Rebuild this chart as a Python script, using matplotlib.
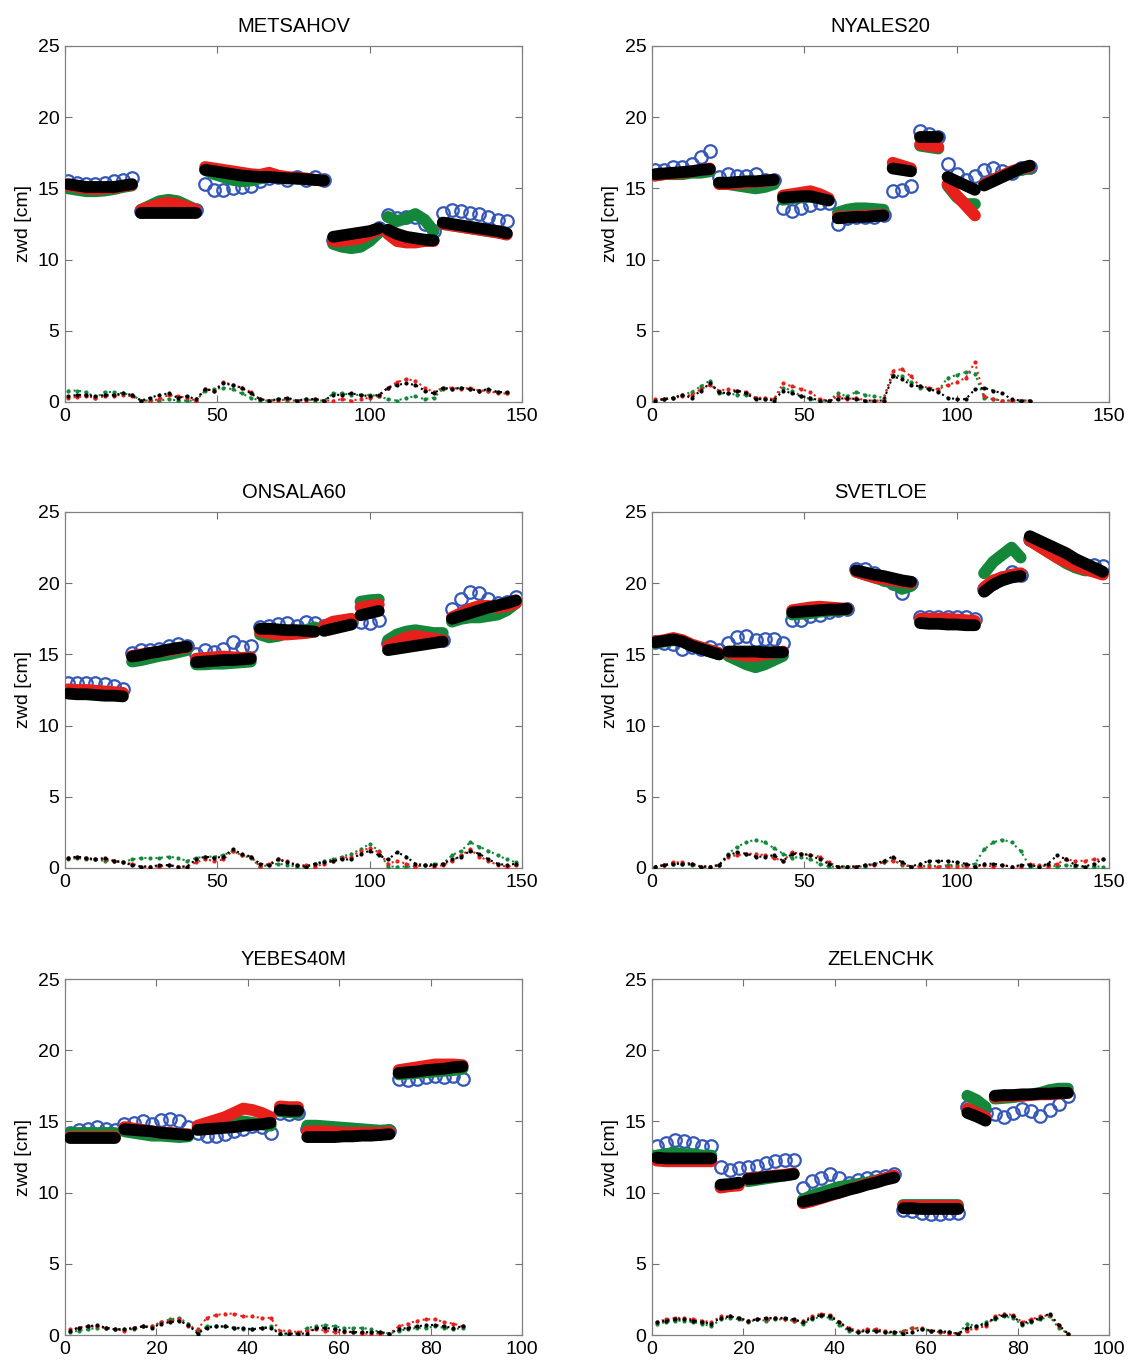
import matplotlib
matplotlib.use("Agg")
import matplotlib.pyplot as plt

plt.rcParams["font.family"] = ["Liberation Sans", "DejaVu Sans"]

# ── colours ───────────────────────────────────────────────────────────────────
C_BLUE = "#3558b8"
C_GREEN = "#14873a"
C_RED = "#e8201c"
C_BLACK = "#000000"

# ── METSAHOV ──────────────────────────────────────────────────────────────────
met_x = list(range(1, 146, 3))
met_breaks = [8, 15, 29, 35, 41]
met_black = [15.3, 15.2, 15.1, 15.1, 15.1, 15.1, 15.2, 15.3,
             13.3, 13.3, 13.3, 13.3, 13.3, 13.3, 13.3,
             16.3, 16.2, 16.1, 16.0, 15.9, 15.85, 15.8, 15.8, 15.75, 15.7, 15.7, 15.65, 15.6, 15.55,
             11.6, 11.7, 11.8, 11.9, 12.0, 12.2,
             12.1, 11.8, 11.6, 11.5, 11.4, 11.35,
             12.6, 12.5, 12.4, 12.3, 12.2, 12.1, 12.0, 11.85]
met_red = [15.2, 15.1, 15.0, 14.95, 15.0, 15.05, 15.15, 15.25,
           13.5, 13.7, 13.9, 14.0, 13.9, 13.7, 13.5,
           16.5, 16.4, 16.3, 16.2, 16.1, 16.0, 15.95, 16.1, 15.9, 15.8, 15.75, 15.7, 15.6, 15.55,
           11.3, 11.3, 11.4, 11.5, 11.8, 12.1,
           11.8, 11.3, 11.2, 11.2, 11.3, 11.3,
           12.5, 12.4, 12.3, 12.2, 12.1, 12.0, 11.9, 11.75]
met_green = [15.0, 14.9, 14.8, 14.8, 14.85, 14.95, 15.1, 15.2,
             13.5, 13.8, 14.1, 14.2, 14.1, 13.8, 13.5,
             16.3, 16.0, 15.8, 15.6, 15.5, 15.55, 15.7, 15.8, 15.8, 15.75, 15.7, 15.65, 15.6, 15.55,
             11.1, 10.9, 10.8, 10.9, 11.3, 11.9,
             13.0, 12.7, 12.9, 13.2, 12.8, 12.0,
             12.5, 12.4, 12.3, 12.2, 12.1, 12.0, 11.9, 11.8]
met_blue = [15.5, 15.4, 15.3, 15.3, 15.4, 15.5, 15.6, 15.7,
            13.4, 13.5, 13.6, 13.6, 13.6, 13.6, 13.5,
            15.3, 14.9, 14.9, 15.0, 15.1, 15.2, 15.5, 15.7, 15.8, 15.6, 15.8, 15.6, 15.8, 15.6,
            11.4, 11.4, 11.5, 11.7, 11.9, 12.2,
            13.1, 12.9, 13.0, 13.0, 12.5, 12.0,
            13.3, 13.5, 13.4, 13.3, 13.2, 13.0, 12.8, 12.7]
met_d_black = [0.4, 0.5, 0.5, 0.4, 0.5, 0.5, 0.6, 0.5,
               0.1, 0.3, 0.5, 0.6, 0.3, 0.4, 0.2,
               0.9, 0.8, 1.3, 1.2, 1.0, 0.6, 0.2, 0.1, 0.2, 0.3, 0.1, 0.2, 0.2, 0.1,
               0.5, 0.5, 0.6, 0.5, 0.4, 0.5,
               1.0, 1.2, 1.3, 1.2, 0.8, 0.6,
               1.0, 0.9, 1.0, 0.9, 0.8, 0.9, 0.7, 0.7]
met_d_red = [0.3, 0.35, 0.4, 0.3, 0.4, 0.45, 0.5, 0.4,
             0.1, 0.1, 0.2, 0.5, 0.4, 0.3, 0.1,
             0.9, 0.8, 1.4, 1.2, 1.0, 0.7, 0.2, 0.1, 0.1, 0.2, 0.1, 0.1, 0.2, 0.1,
             0.1, 0.2, 0.1, 0.2, 0.3, 0.4,
             1.0, 1.4, 1.6, 1.5, 1.0, 0.7,
             1.0, 1.0, 0.9, 1.0, 0.8, 0.8, 0.6, 0.6]
met_d_green = [0.8, 0.8, 0.7, 0.3, 0.7, 0.7, 0.6, 0.5,
               0.1, 0.1, 0.1, 0.2, 0.1, 0.1, 0.1,
               0.8, 0.9, 1.0, 0.9, 0.6, 0.3, 0.1, 0.1, 0.2, 0.1, 0.1, 0.2, 0.1, 0.1,
               0.6, 0.6, 0.5, 0.5, 0.5, 0.4,
               0.2, 0.1, 0.3, 0.4, 0.2, 0.3,
               0.9, 0.9, 1.0, 0.9, 0.8, 0.8, 0.7, 0.6]

# ── NYALES20 ──────────────────────────────────────────────────────────────────
nya_x = list(range(1, 125, 3))
nya_breaks = [7, 14, 20, 26, 29, 32, 36]
nya_black = [16.0, 16.05, 16.1, 16.15, 16.2, 16.3, 16.35,
             15.4, 15.4, 15.45, 15.5, 15.5, 15.55, 15.6,
             14.35, 14.4, 14.45, 14.45, 14.3, 14.15,
             12.9, 12.95, 13.0, 13.0, 13.05, 13.1,
             16.4, 16.3, 16.2,
             18.6, 18.6, 18.6,
             15.8, 15.5, 15.2, 14.9,
             15.2, 15.5, 15.8, 16.1, 16.4, 16.6]
nya_red = [15.9, 16.0, 16.05, 16.1, 16.2, 16.3, 16.4,
           15.3, 15.3, 15.35, 15.4, 15.45, 15.5, 15.6,
           14.5, 14.6, 14.7, 14.8, 14.6, 14.3,
           13.0, 13.0, 13.05, 13.1, 13.1, 13.15,
           16.8, 16.6, 16.4,
           18.1, 18.0, 17.9,
           15.3, 14.5, 13.8, 13.1,
           15.3, 15.6, 15.9, 16.2, 16.4, 16.5]
nya_green = [15.9, 16.0, 16.0, 16.0, 16.1, 16.1, 16.2,
             15.4, 15.3, 15.2, 15.1, 15.0, 15.1, 15.3,
             14.2, 14.3, 14.4, 14.4, 14.3, 14.2,
             13.3, 13.5, 13.6, 13.6, 13.55, 13.5,
             16.5, 16.4, 16.3,
             18.0, 17.9, 17.8,
             15.2, 14.4, 13.9, 13.9,
             15.3, 15.6, 15.9, 16.1, 16.3, 16.4]
nya_blue = [16.3, 16.3, 16.5, 16.5, 16.7, 17.2, 17.6,
            15.8, 16.0, 15.9, 15.9, 16.0, 15.6, 15.6,
            13.6, 13.4, 13.6, 13.8, 14.0, 14.0,
            12.5, 12.9, 13.0, 13.0, 13.0, 13.1,
            14.8, 14.9, 15.2,
            19.0, 18.8, 18.6,
            16.7, 16.0, 15.6, 15.9,
            16.3, 16.4, 16.2, 16.1, 16.4, 16.5]
nya_d_black = [0.1, 0.2, 0.3, 0.5, 0.3, 0.8, 1.3,
               0.7, 0.6, 0.8, 0.6, 0.2, 0.2, 0.1,
               0.8, 0.6, 0.4, 0.3, 0.1, 0.1,
               0.2, 0.3, 0.2, 0.1, 0.1, 0.1,
               1.8, 1.6, 1.2,
               1.1, 0.9, 0.7,
               0.3, 0.2, 0.2, 0.9,
               1.0, 0.8, 0.6, 0.2, 0.1, 0.1]
nya_d_red = [0.2, 0.2, 0.3, 0.4, 0.5, 0.9, 1.2,
             0.8, 0.9, 0.8, 0.7, 0.3, 0.3, 0.2,
             1.3, 1.1, 0.9, 0.7, 0.2, 0.1,
             0.4, 0.2, 0.3, 0.1, 0.1, 0.1,
             2.2, 2.3, 1.8,
             1.1, 1.0, 0.9,
             1.2, 1.4, 1.7, 2.8,
             0.4, 0.2, 0.1, 0.1, 0.1, 0.1]
nya_d_green = [0.1, 0.2, 0.3, 0.5, 0.7, 1.1, 1.5,
               0.6, 0.6, 0.5, 0.5, 0.3, 0.2, 0.2,
               1.0, 0.8, 0.4, 0.2, 0.1, 0.1,
               0.6, 0.4, 0.7, 0.5, 0.4, 0.3,
               1.9, 1.8, 1.4,
               1.0, 0.9, 0.8,
               1.7, 1.9, 2.1, 2.0,
               0.3, 0.2, 0.1, 0.1, 0.1, 0.1]

# ── ONSALA60 ──────────────────────────────────────────────────────────────────
ons_x = list(range(1, 149, 3))
ons_breaks = [7, 14, 21, 28, 32, 35, 42]
ons_black = [12.25, 12.2, 12.2, 12.15, 12.1, 12.1, 12.05,
             14.85, 14.95, 15.1, 15.2, 15.35, 15.45, 15.55,
             14.45, 14.5, 14.55, 14.6, 14.6, 14.65, 14.7,
             16.8, 16.8, 16.75, 16.7, 16.7, 16.65, 16.6,
             16.65, 16.8, 16.95, 17.1,
             17.75, 17.9, 18.05,
             15.3, 15.4, 15.5, 15.6, 15.7, 15.8, 15.9,
             17.5, 17.7, 17.9, 18.1, 18.3, 18.45, 18.6, 18.8]
ons_red = [12.55, 12.5, 12.5, 12.45, 12.4, 12.35, 12.3,
           14.9, 15.0, 15.1, 15.2, 15.3, 15.4, 15.5,
           14.7, 14.75, 14.8, 14.85, 14.8, 14.75, 14.8,
           16.6, 16.5, 16.4, 16.4, 16.45, 16.5, 16.6,
           17.0, 17.3, 17.4, 17.5,
           18.3, 18.4, 18.5,
           15.6, 15.9, 16.2, 16.3, 16.2, 16.1, 16.0,
           17.6, 17.9, 18.2, 18.4, 18.4, 18.3, 18.4, 18.6]
ons_green = [12.4, 12.45, 12.45, 12.4, 12.35, 12.3, 12.25,
             14.5, 14.6, 14.75, 14.9, 15.0, 15.15, 15.3,
             14.3, 14.3, 14.35, 14.35, 14.4, 14.45, 14.5,
             16.4, 16.2, 16.3, 16.5, 16.6, 16.7, 16.9,
             16.9, 17.1, 17.3, 17.4,
             18.7, 18.8, 18.85,
             16.0, 16.4, 16.6, 16.7, 16.6, 16.5, 16.5,
             17.3, 17.5, 17.6, 17.6, 17.7, 17.8, 18.1, 18.6]
ons_blue = [13.0, 13.0, 13.0, 13.0, 12.9, 12.8, 12.6,
            15.1, 15.3, 15.3, 15.4, 15.6, 15.7, 15.6,
            15.0, 15.3, 15.2, 15.4, 15.9, 15.5, 15.6,
            16.9, 17.0, 17.1, 17.2, 17.0, 17.3, 17.2,
            17.0, 17.1, 17.2, 17.3,
            17.3, 17.2, 17.4,
            15.8, 16.0, 16.2, 16.3, 16.2, 16.1, 16.0,
            18.2, 18.9, 19.4, 19.3, 18.9, 18.6, 18.7, 19.0]
ons_d_black = [0.7, 0.8, 0.7, 0.6, 0.7, 0.5, 0.4,
               0.2, 0.1, 0.1, 0.2, 0.2, 0.1, 0.1,
               0.6, 0.8, 0.7, 0.8, 1.3, 1.0, 0.8,
               0.3, 0.2, 0.6, 0.4, 0.2, 0.1, 0.3,
               0.4, 0.5, 0.6, 0.6,
               1.0, 1.2, 0.9,
               0.6, 1.1, 0.8, 0.3, 0.2, 0.2, 0.3,
               0.6, 0.8, 1.2, 1.0, 0.6, 0.3, 0.2, 0.3]
ons_d_red = [0.7, 0.75, 0.7, 0.6, 0.6, 0.5, 0.4,
             0.3, 0.1, 0.1, 0.1, 0.2, 0.1, 0.1,
             0.4, 0.6, 0.5, 0.6, 1.2, 0.9, 0.8,
             0.1, 0.3, 0.6, 0.5, 0.2, 0.2, 0.1,
             0.3, 0.5, 0.7, 0.8,
             1.2, 1.4, 1.1,
             0.3, 0.5, 0.3, 0.1, 0.2, 0.1, 0.2,
             0.5, 0.9, 1.3, 0.8, 0.5, 0.2, 0.1, 0.2]
ons_d_green = [0.6, 0.7, 0.6, 0.6, 0.5, 0.5, 0.4,
               0.6, 0.7, 0.7, 0.7, 0.8, 0.7, 0.5,
               0.7, 0.8, 0.8, 0.9, 1.2, 0.9, 0.7,
               0.1, 0.2, 0.3, 0.2, 0.1, 0.1, 0.3,
               0.5, 0.6, 0.8, 1.0,
               1.3, 1.7, 1.2,
               0.1, 0.1, 0.1, 0.1, 0.2, 0.3, 0.3,
               0.9, 1.2, 1.8, 1.5, 1.2, 0.9, 0.6, 0.4]

# ── SVETLOE ───────────────────────────────────────────────────────────────────
sve_x = list(range(1, 149, 3))
sve_breaks = [8, 15, 22, 29, 36, 41]
sve_black = [15.85, 15.95, 16.05, 15.9, 15.6, 15.4, 15.2, 15.0,
             15.2, 15.2, 15.2, 15.2, 15.15, 15.15, 15.15,
             17.95, 18.0, 18.05, 18.1, 18.15, 18.15, 18.2,
             20.9, 20.75, 20.6, 20.5, 20.35, 20.2, 20.1,
             17.2, 17.15, 17.15, 17.1, 17.1, 17.05, 17.05,
             19.4, 19.9, 20.2, 20.4, 20.5,
             23.3, 23.0, 22.7, 22.4, 22.1, 21.7, 21.4, 21.1, 20.8]
sve_red = [15.9, 16.0, 16.15, 16.0, 15.7, 15.5, 15.3, 15.1,
           15.1, 15.0, 14.9, 14.9, 15.0, 15.1, 15.2,
           18.1, 18.2, 18.3, 18.35, 18.3, 18.25, 18.2,
           20.8, 20.6, 20.4, 20.3, 20.2, 20.1, 20.0,
           17.5, 17.5, 17.5, 17.5, 17.45, 17.4, 17.35,
           19.7, 20.2, 20.4, 20.6, 20.7,
           23.0, 22.6, 22.2, 21.8, 21.5, 21.2, 21.0, 20.8, 20.6]
sve_green = [15.8, 15.9, 16.0, 15.9, 15.6, 15.4, 15.2, 15.0,
             14.9, 14.6, 14.3, 14.1, 14.3, 14.6, 14.9,
             17.8, 17.85, 17.9, 18.0, 18.05, 18.1, 18.15,
             20.8, 20.6, 20.4, 20.2, 20.0, 19.6, 19.8,
             17.3, 17.3, 17.3, 17.3, 17.3, 17.25, 17.2,
             20.7, 21.5, 22.0, 22.5, 21.8,
             23.0, 22.6, 22.2, 21.8, 21.4, 21.1, 20.9, 20.9, 20.7]
sve_blue = [15.9, 15.8, 15.7, 15.4, 15.5, 15.4, 15.5, 15.3,
            15.8, 16.2, 16.3, 16.0, 16.1, 16.1, 15.8,
            17.4, 17.4, 17.7, 17.8, 18.0, 18.1, 18.2,
            21.0, 21.0, 20.7, 20.3, 20.0, 19.3, 20.0,
            17.6, 17.6, 17.6, 17.6, 17.6, 17.6, 17.5,
            19.6, 20.0, 20.4, 20.8, 20.6,
            23.1, 22.8, 22.4, 22.0, 21.6, 21.3, 21.2, 21.3, 21.2]
sve_d_black = [0.1, 0.2, 0.3, 0.3, 0.3, 0.1, 0.1, 0.2,
               0.9, 1.1, 1.0, 0.8, 0.8, 0.9, 0.5,
               1.0, 1.0, 0.9, 0.6, 0.3, 0.1, 0.1,
               0.1, 0.2, 0.3, 0.5, 0.8, 0.4, 0.1,
               0.3, 0.5, 0.5, 0.5, 0.4, 0.3, 0.1,
               0.3, 0.3, 0.2, 0.1, 0.2,
               0.2, 0.1, 0.3, 0.9, 0.6, 0.2, 0.1, 0.3, 0.6]
sve_d_red = [0.1, 0.2, 0.4, 0.4, 0.3, 0.1, 0.1, 0.2,
             0.8, 0.9, 1.0, 1.0, 0.9, 0.7, 0.5,
             1.1, 1.0, 0.9, 0.8, 0.4, 0.1, 0.1,
             0.1, 0.2, 0.2, 0.4, 0.5, 0.3, 0.1,
             0.1, 0.1, 0.1, 0.1, 0.1, 0.1, 0.1,
             0.2, 0.1, 0.2, 0.1, 0.1,
             0.3, 0.2, 0.1, 0.3, 0.6, 0.5, 0.5, 0.6, 0.6]
sve_d_green = [0.1, 0.2, 0.3, 0.3, 0.2, 0.1, 0.1, 0.2,
               1.0, 1.5, 1.8, 2.0, 1.8, 1.4, 1.0,
               0.7, 0.8, 0.6, 0.3, 0.1, 0.1, 0.1,
               0.1, 0.1, 0.3, 0.4, 0.6, 0.2, 0.1,
               0.1, 0.2, 0.1, 0.2, 0.2, 0.2, 0.3,
               1.3, 1.8, 2.0, 1.8, 1.2,
               0.1, 0.1, 0.2, 0.1, 0.2, 0.1, 0.1, 0.1, 0.1]

# ── YEBES40M ──────────────────────────────────────────────────────────────────
yeb_x = list(range(1, 88, 2))
yeb_breaks = [6, 14, 23, 26, 36]
yeb_black = [13.85, 13.85, 13.85, 13.85, 13.85, 13.85,
             14.45, 14.4, 14.35, 14.3, 14.2, 14.15, 14.1, 14.05,
             14.4, 14.45, 14.5, 14.55, 14.6, 14.7, 14.75, 14.8, 14.9,
             15.8, 15.75, 15.75,
             13.9, 13.9, 13.9, 13.9, 13.95, 13.95, 14.0, 14.0, 14.05, 14.1,
             18.4, 18.45, 18.5, 18.6, 18.65, 18.7, 18.8, 18.85]
yeb_red = [13.9, 13.9, 13.9, 13.9, 13.9, 13.9,
           14.6, 14.5, 14.4, 14.3, 14.2, 14.2, 14.1, 14.1,
           14.7, 14.9, 15.1, 15.3, 15.6, 15.9, 15.8, 15.6, 15.3,
           16.05, 16.0, 16.0,
           14.3, 14.3, 14.3, 14.25, 14.2, 14.2, 14.2, 14.2, 14.2, 14.25,
           18.6, 18.7, 18.8, 18.9, 19.0, 19.0, 19.0, 18.95]
yeb_green = [14.2, 14.2, 14.2, 14.2, 14.2, 14.2,
             14.3, 14.2, 14.1, 14.0, 14.0, 13.95, 13.9, 13.95,
             14.5, 14.6, 14.7, 14.8, 14.9, 15.0, 14.9, 14.8, 14.7,
             15.7, 15.65, 15.6,
             14.7, 14.7, 14.65, 14.6, 14.55, 14.5, 14.45, 14.4, 14.35, 14.4,
             18.3, 18.35, 18.4, 18.45, 18.5, 18.55, 18.6, 18.7]
yeb_blue = [14.2, 14.4, 14.5, 14.6, 14.5, 14.4,
            14.8, 14.9, 15.0, 14.8, 15.1, 15.2, 15.0, 14.6,
            14.2, 14.0, 14.0, 14.1, 14.3, 14.5, 14.7, 14.6, 14.2,
            15.6, 15.5, 15.6,
            14.5, 14.4, 14.3, 14.3, 14.2, 14.2, 14.2, 14.2, 14.2, 14.3,
            18.0, 17.9, 18.0, 18.1, 18.2, 18.1, 18.2, 18.0]
yeb_d_black = [0.3, 0.5, 0.6, 0.7, 0.5, 0.4,
               0.4, 0.5, 0.6, 0.5, 0.8, 0.9, 1.0, 0.7,
               0.1, 0.5, 0.6, 0.6, 0.5, 0.5, 0.4, 0.5, 0.5,
               0.1, 0.1, 0.1,
               0.1, 0.5, 0.5, 0.4, 0.3, 0.2, 0.2, 0.2, 0.2, 0.1,
               0.4, 0.5, 0.6, 0.7, 0.7, 0.6, 0.5, 0.6]
yeb_d_red = [0.4, 0.5, 0.6, 0.6, 0.5, 0.4,
             0.3, 0.5, 0.6, 0.6, 0.9, 1.0, 1.1, 0.6,
             0.4, 1.2, 1.4, 1.5, 1.5, 1.3, 1.3, 1.2, 1.2,
             0.3, 0.3, 0.2,
             0.3, 0.4, 0.3, 0.2, 0.2, 0.2, 0.1, 0.1, 0.1, 0.1,
             0.6, 0.8, 1.0, 1.1, 1.1, 0.9, 0.8, 0.6]
yeb_d_green = [0.2, 0.3, 0.4, 0.5, 0.5, 0.4,
               0.4, 0.4, 0.6, 0.6, 0.9, 1.1, 1.2, 0.8,
               0.2, 0.6, 0.6, 0.6, 0.5, 0.4, 0.4, 0.5, 0.6,
               0.1, 0.1, 0.1,
               0.5, 0.6, 0.7, 0.6, 0.5, 0.5, 0.5, 0.4, 0.2, 0.1,
               0.3, 0.4, 0.5, 0.5, 0.6, 0.5, 0.4, 0.5]

# ── ZELENCHK ──────────────────────────────────────────────────────────────────
zel_x = list(range(1, 92, 2))
zel_breaks = [7, 10, 16, 27, 34, 37]
zel_black = [12.45, 12.4, 12.4, 12.4, 12.4, 12.4, 12.4,
             10.55, 10.6, 10.7,
             10.95, 11.0, 11.1, 11.15, 11.2, 11.3,
             9.35, 9.5, 9.65, 9.85, 10.0, 10.2, 10.35, 10.55, 10.7, 10.9, 11.05,
             8.9, 8.9, 8.85, 8.85, 8.85, 8.85, 8.85,
             15.6, 15.35, 15.05,
             16.8, 16.85, 16.85, 16.9, 16.9, 16.95, 16.95, 17.0, 17.0]
zel_red = [12.25, 12.2, 12.2, 12.2, 12.2, 12.2, 12.2,
           10.35, 10.45, 10.5,
           11.0, 11.05, 11.1, 11.2, 11.25, 11.35,
           9.25, 9.4, 9.6, 9.8, 10.0, 10.2, 10.4, 10.6, 10.8, 11.0, 11.2,
           9.05, 9.05, 9.05, 9.05, 9.05, 9.05, 9.05,
           15.9, 15.6, 15.3,
           16.7, 16.75, 16.8, 16.8, 16.85, 16.9, 16.9, 16.95, 17.0]
zel_green = [12.6, 12.7, 12.8, 12.7, 12.7, 12.6, 12.6,
             10.4, 10.5, 10.6,
             10.8, 10.9, 11.0, 11.1, 11.2, 11.3,
             9.5, 9.8, 10.0, 10.2, 10.4, 10.5, 10.6, 10.7, 10.85, 11.0, 11.1,
             9.15, 9.15, 9.15, 9.15, 9.15, 9.15, 9.15,
             16.8, 16.5, 16.0,
             16.6, 16.65, 16.7, 16.8, 16.9, 17.0, 17.2, 17.3, 17.3]
zel_blue = [13.3, 13.5, 13.7, 13.65, 13.5, 13.3, 13.3,
            11.8, 11.6, 11.7,
            11.8, 11.9, 12.1, 12.2, 12.3, 12.3,
            10.3, 10.8, 11.0, 11.3, 11.0, 10.7, 10.9, 11.0, 11.1, 11.2, 11.3,
            8.8, 8.7, 8.6, 8.5, 8.5, 8.6, 8.6,
            16.0, 15.8, 15.6,
            15.5, 15.3, 15.6, 15.9, 15.7, 15.4, 15.8, 16.2, 16.8]
zel_d_black = [0.9, 1.0, 1.1, 1.1, 1.0, 0.9, 0.8,
               1.2, 1.3, 1.2,
               1.0, 1.1, 1.2, 1.2, 1.2, 1.1,
               0.9, 1.2, 1.4, 1.3, 0.9, 0.4, 0.2, 0.3, 0.3, 0.2, 0.2,
               0.1, 0.2, 0.4, 0.3, 0.3, 0.2, 0.1,
               0.5, 0.6, 0.8,
               1.2, 1.4, 1.3, 0.8, 1.0, 1.2, 1.5, 0.7, 0.1]
zel_d_red = [0.9, 1.1, 1.2, 1.2, 1.1, 1.0, 0.9,
             1.3, 1.3, 1.2,
             1.0, 1.1, 1.1, 1.2, 1.1, 1.0,
             1.0, 1.3, 1.5, 1.4, 0.9, 0.5, 0.3, 0.4, 0.4, 0.3, 0.2,
             0.2, 0.5, 0.5, 0.3, 0.2, 0.1, 0.1,
             0.3, 0.5, 0.6,
             1.3, 1.5, 1.4, 0.9, 1.1, 1.3, 1.4, 0.6, 0.1]
zel_d_green = [0.8, 0.9, 1.0, 1.0, 0.9, 0.8, 0.6,
               1.1, 1.2, 1.1,
               0.9, 1.1, 1.0, 1.1, 1.1, 1.0,
               0.8, 1.1, 1.3, 1.2, 0.7, 0.3, 0.2, 0.3, 0.3, 0.2, 0.1,
               0.3, 0.5, 0.4, 0.3, 0.2, 0.2, 0.1,
               0.8, 0.6, 0.9,
               1.1, 1.3, 1.2, 0.7, 0.9, 1.1, 1.3, 0.5, 0.1]

stations = [
    ("METSAHOV", 150, met_x, met_breaks, met_blue, met_green, met_red, met_black,
     met_d_green, met_d_red, met_d_black),
    ("NYALES20", 150, nya_x, nya_breaks, nya_blue, nya_green, nya_red, nya_black,
     nya_d_green, nya_d_red, nya_d_black),
    ("ONSALA60", 150, ons_x, ons_breaks, ons_blue, ons_green, ons_red, ons_black,
     ons_d_green, ons_d_red, ons_d_black),
    ("SVETLOE", 150, sve_x, sve_breaks, sve_blue, sve_green, sve_red, sve_black,
     sve_d_green, sve_d_red, sve_d_black),
    ("YEBES40M", 100, yeb_x, yeb_breaks, yeb_blue, yeb_green, yeb_red, yeb_black,
     yeb_d_green, yeb_d_red, yeb_d_black),
    ("ZELENCHK", 100, zel_x, zel_breaks, zel_blue, zel_green, zel_red, zel_black,
     zel_d_green, zel_d_red, zel_d_black),
]


def segments(x, y, breaks):
    """Split a series into its session pieces so jumps are not joined."""
    edges = [0] + list(breaks) + [len(x)]
    for a, b in zip(edges[:-1], edges[1:]):
        yield x[a:b], y[a:b]


# ── Figure ────────────────────────────────────────────────────────────────────
W, H = 1133, 1365
fig = plt.figure(figsize=(W / 100, H / 100), dpi=100)

col_left = [65 / W, 652 / W]
row_bottom = [(H - 402) / H, (H - 868) / H, (H - 1335) / H]
ax_w, ax_h = 457 / W, 356 / H

for i, (name, xmax, x, brk, blue, green, red, black, dg, dr, dk) in enumerate(stations):
    ax = fig.add_axes([col_left[i % 2], row_bottom[i // 2], ax_w, ax_h])

    ax.plot(x, blue, ls="none", marker="o", ms=9, mfc="none", mec=C_BLUE, mew=1.6, zorder=2)
    for y, c, z in ((green, C_GREEN, 3), (red, C_RED, 4), (black, C_BLACK, 5)):
        for xs, ys in segments(x, y, brk):
            ax.plot(xs, ys, ls="-", lw=8.5, color=c, solid_capstyle="round",
                    solid_joinstyle="round", zorder=z)

    for d, c in ((dg, C_GREEN), (dr, C_RED), (dk, C_BLACK)):
        ax.plot(x, d, ls=":", lw=1.5, color=c, marker="o", ms=2, zorder=3)

    ax.set_xlim(0, xmax)
    ax.set_ylim(0, 25)
    ax.set_yticks([0, 5, 10, 15, 20, 25])
    if xmax == 150:
        ax.set_xticks([0, 50, 100, 150])
    else:
        ax.set_xticks([0, 20, 40, 60, 80, 100])

    ax.set_title(name, fontsize=14.5, pad=10)
    ax.set_ylabel("zwd [cm]", fontsize=14, labelpad=4)
    ax.tick_params(direction="in", top=True, right=True, labelsize=14,
                   length=5, width=0.8, color="#707070", pad=4)
    for s in ax.spines.values():
        s.set_color("#808080")
        s.set_linewidth(0.9)

fig.savefig("out.png", dpi=100)
